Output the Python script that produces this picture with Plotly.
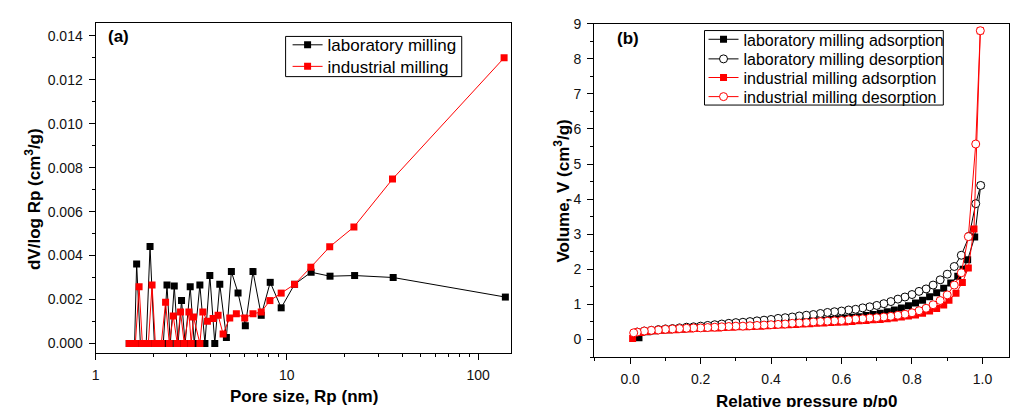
import plotly.graph_objects as go

# ---------------- Panel (a): pore size distribution ----------------
lab_rp = [1.50, 1.54, 1.56, 1.60, 1.64, 1.715, 1.76, 1.80, 1.84, 1.927, 2.03, 2.13, 2.26, 2.363, 2.46,
          2.579, 2.70, 2.815, 2.94, 3.125, 3.28, 3.51, 3.73, 3.957, 4.20, 4.461, 4.83, 5.128, 5.557,
          6.066, 6.651, 7.346, 8.185, 9.339, 10.97, 13.39, 16.81, 22.60, 35.95, 138.7]
lab_dv = [0.0, 0.0, 0.0, 0.0, 0.00362, 0.0, 0.0, 0.0, 0.0, 0.00441, 0.0, 0.0, 0.0, 0.00266, 0.0,
          0.00261, 0.0, 0.00195, 0.0, 0.00258, 0.0, 0.00266, 0.0, 0.00309, 0.0, 0.00269, 0.00027, 0.00327, 0.0023,
          0.0008, 0.00327, 0.00128, 0.00278, 0.00162, 0.00269, 0.00324, 0.00306, 0.00309, 0.0030, 0.00211]

ind_rp = [1.50, 1.54, 1.56, 1.615, 1.689, 1.757, 1.80, 1.821, 1.888, 1.974, 2.054, 2.13, 2.207, 2.323, 2.429,
          2.548, 2.673, 2.781, 2.908, 3.076, 3.162, 3.251, 3.51, 3.638, 3.845, 4.117, 4.371, 4.642, 5.03,
          5.445, 6.023, 6.651, 7.346, 8.155, 9.339, 10.97, 13.34, 16.75, 22.41, 35.66, 136.6]
ind_dv = [0.0, 0.0, 0.0, 0.0, 0.00258, 0.0, 0.0, 0.0, 0.0, 0.00266, 0.0, 0.0, 0.0, 0.00187, 0.0,
          0.00125, 0.0, 0.00143, 0.0, 0.00143, 0.0, 0.0012, 0.0, 0.00143, 0.00101, 0.00113, 0.00128, 0.00043, 0.00116,
          0.00135, 0.00116, 0.00135, 0.00143, 0.00195, 0.00229, 0.00269, 0.00347, 0.0044, 0.0053, 0.00748, 0.0130]

# ---------------- Panel (b): isotherms ----------------
lab_ads_p = [0.025, 0.05, 0.07, 0.09, 0.11, 0.13, 0.15, 0.17, 0.19, 0.21, 0.23, 0.25, 0.27, 0.29, 0.31, 0.33,
             0.35, 0.37, 0.39, 0.41, 0.43, 0.45, 0.47, 0.49, 0.51, 0.53, 0.55, 0.57, 0.59, 0.61, 0.63, 0.65,
             0.67, 0.69, 0.71, 0.73, 0.75, 0.77, 0.79, 0.81, 0.83, 0.85, 0.87, 0.89, 0.91, 0.93, 0.945,
             0.958, 0.978, 0.995]
lab_ads_v = [0.05, 0.22, 0.25, 0.27, 0.28, 0.29, 0.30, 0.31, 0.32, 0.33, 0.34, 0.35, 0.36, 0.37, 0.38, 0.39,
             0.40, 0.41, 0.42, 0.44, 0.45, 0.46, 0.48, 0.49, 0.51, 0.53, 0.55, 0.57, 0.59, 0.61, 0.63, 0.65,
             0.68, 0.71, 0.75, 0.79, 0.84, 0.90, 0.96, 1.04, 1.12, 1.22, 1.33, 1.46, 1.61, 1.80, 2.00,
             2.27, 2.92, 4.39]

lab_des_p = [0.995, 0.981, 0.962, 0.94, 0.92, 0.90, 0.88, 0.86, 0.84, 0.82, 0.80, 0.78, 0.76, 0.74, 0.72,
             0.70, 0.68, 0.66, 0.64, 0.62, 0.60, 0.58, 0.56, 0.54, 0.52, 0.50, 0.48, 0.46, 0.44, 0.42, 0.40,
             0.38, 0.36, 0.34, 0.32, 0.30, 0.28, 0.26, 0.24, 0.22, 0.20, 0.18, 0.16, 0.14, 0.12, 0.10, 0.08,
             0.06, 0.04, 0.02]
lab_des_v = [4.39, 3.87, 2.94, 2.40, 2.08, 1.86, 1.70, 1.55, 1.44, 1.37, 1.28, 1.21, 1.15, 1.08, 1.02,
             0.97, 0.93, 0.90, 0.86, 0.84, 0.81, 0.79, 0.77, 0.74, 0.71, 0.69, 0.67, 0.64, 0.62, 0.60, 0.57,
             0.55, 0.53, 0.51, 0.49, 0.48, 0.46, 0.44, 0.42, 0.40, 0.38, 0.36, 0.35, 0.33, 0.31, 0.30, 0.28,
             0.26, 0.24, 0.21]

ind_ads_p = [0.007, 0.03, 0.05, 0.07, 0.09, 0.11, 0.13, 0.15, 0.17, 0.19, 0.21, 0.23, 0.25, 0.27, 0.29, 0.31,
             0.33, 0.35, 0.37, 0.39, 0.41, 0.43, 0.45, 0.47, 0.49, 0.51, 0.53, 0.55, 0.57, 0.59, 0.61, 0.63,
             0.65, 0.67, 0.69, 0.71, 0.73, 0.75, 0.77, 0.79, 0.81, 0.83, 0.85, 0.87, 0.89, 0.905, 0.925,
             0.943, 0.96, 0.976, 0.994]
ind_ads_v = [0.03, 0.20, 0.23, 0.25, 0.26, 0.27, 0.28, 0.29, 0.30, 0.31, 0.32, 0.33, 0.33, 0.34, 0.35, 0.36,
             0.36, 0.37, 0.38, 0.39, 0.40, 0.41, 0.42, 0.43, 0.44, 0.45, 0.46, 0.47, 0.48, 0.49, 0.50, 0.51,
             0.53, 0.54, 0.56, 0.57, 0.59, 0.61, 0.64, 0.67, 0.70, 0.75, 0.81, 0.88, 0.98, 1.12, 1.32,
             1.62, 2.04, 3.15, 8.80]

ind_des_p = [0.994, 0.981, 0.96, 0.94, 0.92, 0.90, 0.88, 0.86, 0.84, 0.82, 0.80, 0.78, 0.76, 0.74, 0.72,
             0.70, 0.68, 0.66, 0.64, 0.62, 0.60, 0.58, 0.56, 0.54, 0.52, 0.50, 0.48, 0.46, 0.44, 0.42, 0.40,
             0.38, 0.36, 0.34, 0.32, 0.30, 0.28, 0.26, 0.24, 0.22, 0.20, 0.18, 0.16, 0.14, 0.12, 0.10, 0.08,
             0.06, 0.04, 0.02, 0.01]
ind_des_v = [8.80, 5.57, 2.93, 1.90, 1.55, 1.27, 1.11, 0.99, 0.89, 0.82, 0.76, 0.72, 0.69, 0.66, 0.64,
             0.62, 0.61, 0.59, 0.58, 0.56, 0.54, 0.53, 0.52, 0.51, 0.50, 0.48, 0.47, 0.46, 0.44, 0.43, 0.42,
             0.41, 0.40, 0.39, 0.38, 0.38, 0.37, 0.36, 0.35, 0.34, 0.33, 0.33, 0.32, 0.31, 0.30, 0.29, 0.27,
             0.26, 0.24, 0.21, 0.19]

FONT = "Liberation Sans, Arial, sans-serif"
BLACK = "#000000"
RED = "#ff0000"
W, H = 1010, 407


def px_x(p):
    return p / W


def px_y(p):
    return (H - p) / H


fig = go.Figure()

sq_black = dict(symbol="square", size=7, color=BLACK, line=dict(width=0))
sq_red = dict(symbol="square", size=7, color=RED, line=dict(width=0))
ci_black = dict(symbol="circle", size=8, color="white", line=dict(width=1, color=BLACK))
ci_red = dict(symbol="circle", size=8, color="white", line=dict(width=1, color=RED))

fig.add_trace(go.Scatter(x=lab_rp, y=lab_dv, mode="lines+markers", name="laboratory milling",
                         line=dict(color=BLACK, width=1), marker=sq_black,
                         xaxis="x", yaxis="y", legend="legend"))
fig.add_trace(go.Scatter(x=ind_rp, y=ind_dv, mode="lines+markers", name="industrial milling",
                         line=dict(color=RED, width=1), marker=sq_red,
                         xaxis="x", yaxis="y", legend="legend2"))

fig.add_trace(go.Scatter(x=lab_ads_p, y=lab_ads_v, mode="lines+markers", name="laboratory milling adsorption",
                         line=dict(color=BLACK, width=1), marker=sq_black,
                         xaxis="x2", yaxis="y2", legend="legend3"))
fig.add_trace(go.Scatter(x=lab_des_p, y=lab_des_v, mode="lines+markers", name="laboratory milling desorption",
                         line=dict(color=BLACK, width=1), marker=ci_black,
                         xaxis="x2", yaxis="y2", legend="legend4"))
fig.add_trace(go.Scatter(x=ind_ads_p, y=ind_ads_v, mode="lines+markers", name="industrial milling adsorption",
                         line=dict(color=RED, width=1), marker=sq_red,
                         xaxis="x2", yaxis="y2", legend="legend5"))
fig.add_trace(go.Scatter(x=ind_des_p, y=ind_des_v, mode="lines+markers", name="industrial milling desorption",
                         line=dict(color=RED, width=1), marker=ci_red,
                         xaxis="x2", yaxis="y2", legend="legend6"))

tickfont = dict(family=FONT, size=14, color="#111")
axis_common = dict(showline=True, linecolor=BLACK, linewidth=1, mirror=True, ticks="outside",
                   ticklen=6, tickwidth=1, tickcolor=BLACK, showgrid=False, zeroline=False,
                   tickfont=tickfont)


def one_legend(x_left, y_center, size):
    return dict(x=px_x(x_left), y=px_y(y_center), xanchor="left", yanchor="middle",
                borderwidth=0, bgcolor="rgba(0,0,0,0)",
                font=dict(family=FONT, size=size, color=BLACK), tracegroupgap=0)


fig.update_layout(
    width=W, height=H, margin=dict(l=0, r=0, t=0, b=0),
    paper_bgcolor="white", plot_bgcolor="white",
    font=dict(family=FONT, color=BLACK),
    xaxis=dict(domain=[px_x(92), px_x(510)], type="log", range=[0, 2.174], anchor="y",
               tickvals=[1, 10, 100], ticktext=["1", "10", "100"], ticklabelstandoff=3,
               minor=dict(ticks="outside", ticklen=3, tickcolor=BLACK,
                          tickvals=[2, 3, 4, 5, 6, 7, 8, 9, 20, 30, 40, 50, 60, 70, 80, 90]),
               **axis_common),
    yaxis=dict(domain=[px_y(352), px_y(15)], range=[-0.00044, 0.0146], anchor="x",
               tickvals=[0, 0.002, 0.004, 0.006, 0.008, 0.010, 0.012, 0.014],
               ticktext=["0.000", "0.002", "0.004", "0.006", "0.008", "0.010", "0.012", "0.014"],
               ticklabelstandoff=3,
               minor=dict(ticks="outside", ticklen=3, tickcolor=BLACK, dtick=0.001, tick0=0),
               **axis_common),
    xaxis2=dict(domain=[px_x(593), 1.0], range=[-0.1025, 1.0754], anchor="y2",
                tickvals=[0, 0.2, 0.4, 0.6, 0.8, 1.0],
                ticktext=["0.0", "0.2", "0.4", "0.6", "0.8", "1.0"], ticklabelstandoff=3,
                minor=dict(ticks="outside", ticklen=3, tickcolor=BLACK, dtick=0.1, tick0=0),
                **axis_common),
    yaxis2=dict(domain=[px_y(356), px_y(16)], range=[-0.5, 9], anchor="x2",
                tickvals=[0, 1, 2, 3, 4, 5, 6, 7, 8, 9], ticklabelstandoff=3,
                minor=dict(ticks="outside", ticklen=3, tickcolor=BLACK, dtick=0.5, tick0=0),
                **axis_common),
    legend=one_legend(285, 38, 17),
    legend2=one_legend(285, 60, 17),
    legend3=one_legend(703, 32, 16),
    legend4=one_legend(703, 52, 16),
    legend5=one_legend(703, 71, 16),
    legend6=one_legend(703, 90.5, 16),
    showlegend=True,
)

# legend frames
fig.add_shape(type="rect", xref="paper", yref="paper", x0=px_x(283), x1=px_x(460), y0=px_y(70), y1=px_y(29),
              line=dict(color=BLACK, width=1), fillcolor="rgba(0,0,0,0)", layer="above")
fig.add_shape(type="rect", xref="paper", yref="paper", x0=px_x(704), x1=px_x(944), y0=px_y(99), y1=px_y(23),
              line=dict(color=BLACK, width=1), fillcolor="rgba(0,0,0,0)", layer="above")

annots = [
    dict(text="<b>(a)</b>", x=px_x(115), y=px_y(29), size=17),
    dict(text="<b>(b)</b>", x=px_x(627), y=px_y(31), size=17),
    dict(text="<b>Pore size, Rp (nm)</b>", x=px_x(301), y=px_y(396.5), size=17),
    dict(text="<b>Relative pressure p/p0</b>", x=px_x(806), y=px_y(401.5), size=17),
    dict(text="<b>dV/log Rp (cm<sup>3</sup>/g)</b>", x=px_x(29), y=px_y(195), size=17, angle=-90),
    dict(text="<b>Volume, V (cm<sup>3</sup>/g)</b>", x=px_x(561), y=px_y(187), size=17, angle=-90),
]
for a in annots:
    fig.add_annotation(xref="paper", yref="paper", showarrow=False, xanchor="center", yanchor="middle",
                       text=a["text"], x=a["x"], y=a["y"], textangle=a.get("angle", 0),
                       font=dict(family=FONT, color=BLACK, size=a["size"]))

fig.write_html("out.html")
